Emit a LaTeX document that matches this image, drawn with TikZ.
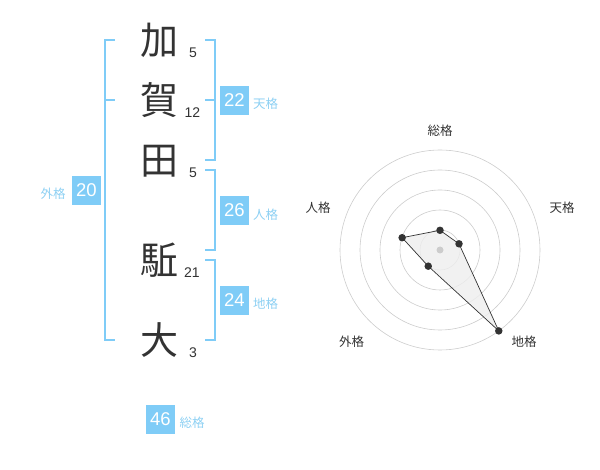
\documentclass[tikz,border=0pt]{standalone}
\usepackage{fontspec}
\usetikzlibrary{calc}
\setmainfont{Liberation Sans}
\newfontfamily\cjk{Noto Sans CJK JP}
\definecolor{bl}{HTML}{7FCCF7}
\definecolor{bltext}{HTML}{8DD0F3}
\definecolor{dk}{HTML}{333333}
\definecolor{ring}{HTML}{CCCCCC}
\definecolor{polyfill}{HTML}{EEEEEE}
\tikzset{
  kanji/.style={inner sep=0pt, font=\cjk\fontsize{38}{38}\selectfont, text=dk},
  strokes/.style={inner sep=0pt, font=\fontsize{14}{14}\selectfont, text=dk},
  numbox/.style={fill=bl, text=white, minimum width=29pt, minimum height=29pt, inner sep=0pt, font=\fontsize{18.5}{18.5}\selectfont},
  kaku/.style={inner sep=0pt, text=bltext, font=\cjk\fontsize{12.5}{12.5}\selectfont},
  brk/.style={draw=bl, line width=2pt},
  axlab/.style={inner sep=0pt, text=dk, font=\cjk\fontsize{12.5}{12.5}\selectfont},
  ringc/.style={draw=ring, line width=0.6pt},
  dot/.style={circle, fill=dk, inner sep=0pt, minimum size=7.5pt},
}
\begin{document}
\begin{tikzpicture}[x=1pt,y=-1pt]
\useasboundingbox (0,0) rectangle (600,470);
% kanji
\node[kanji] (k1) at (159,40) {加};
\node[kanji] (k2) at (159,100) {賀};
\node[kanji] (k3) at (159,161) {田};
\node[kanji] (k4) at (159,260) {駈};
\node[kanji] (k5) at (159,340) {大};
\node[strokes] (s1) at (193,52.5) {5};
\node[strokes] (s2) at (192.5,112.5) {12};
\node[strokes] (s3) at (193,172.5) {5};
\node[strokes] (s4) at (192,272.5) {21};
\node[strokes] (s5) at (193,352.5) {3};
% left bracket
\coordinate (la) at (105,40);
\coordinate (lb) at (105,100);
\coordinate (lc) at (105,340);
\draw[brk] ([xshift=10pt]la) -- (la) -- (lc) -- ([xshift=10pt]lc);
\draw[brk] (lb) -- ([xshift=10pt]lb);
% right brackets
\coordinate (ta) at (214.5,40);
\coordinate (tb) at (214.5,100);
\coordinate (tc) at (214.5,160);
\draw[brk] ([xshift=-9.5pt]ta) -- (ta) -- (tc) -- ([xshift=-9.5pt]tc);
\draw[brk] (tb) -- ([xshift=-9.5pt]tb);
\coordinate (ja) at (214.5,170);
\coordinate (jc) at (214.5,250);
\draw[brk] ([xshift=-9.5pt]ja) -- (ja) -- (jc) -- ([xshift=-9.5pt]jc);
\coordinate (ca) at (214.5,260);
\coordinate (cc) at (214.5,340);
\draw[brk] ([xshift=-9.5pt]ca) -- (ca) -- (cc) -- ([xshift=-9.5pt]cc);
% boxes and labels
\node[numbox] (b22) at (234.5,100.5) {22};
\node[kaku] (l22) at (265.5,104) {天格};
\node[numbox] (b26) at (234.5,210.5) {26};
\node[kaku] (l26) at (265.5,214.5) {人格};
\node[numbox] (b24) at (234.5,300.5) {24};
\node[kaku] (l24) at (265.5,304) {地格};
\node[numbox] (b20) at (86.5,190.5) {20};
\node[kaku] (l20) at (53,194) {外格};
\node[numbox] (b46) at (160.5,419.5) {46};
\node[kaku] (l46) at (192,423) {総格};
% radar
\coordinate (c) at (440,250);
\foreach \r in {20,40,60,80,100} \draw[ringc] (c) circle[radius=\r];
\coordinate (p1) at ($(c)+(-90:19.7)$);
\coordinate (p2) at ($(c)+(-18:20)$);
\coordinate (p3) at ($(c)+(54:100)$);
\coordinate (p4) at ($(c)+(126:20)$);
\coordinate (p5) at ($(c)+(198:39.8)$);
\filldraw[fill=polyfill, fill opacity=0.8, draw=dk, line width=0.7pt] (p1) -- (p2) -- (p3) -- (p4) -- (p5) -- cycle;
\node[circle, fill=ring, inner sep=0pt, minimum size=7pt] (cd) at (c) {};
\foreach \i in {1,...,5} \node[dot] (d\i) at (p\i) {};
\node[axlab] (a1) at (440,131) {総格};
\node[axlab] (a2) at (562,208) {天格};
\node[axlab] (a3) at (524,341.5) {地格};
\node[axlab] (a4) at (351.5,341.5) {外格};
\node[axlab] (a5) at (318,208) {人格};
\end{tikzpicture}
\end{document}
